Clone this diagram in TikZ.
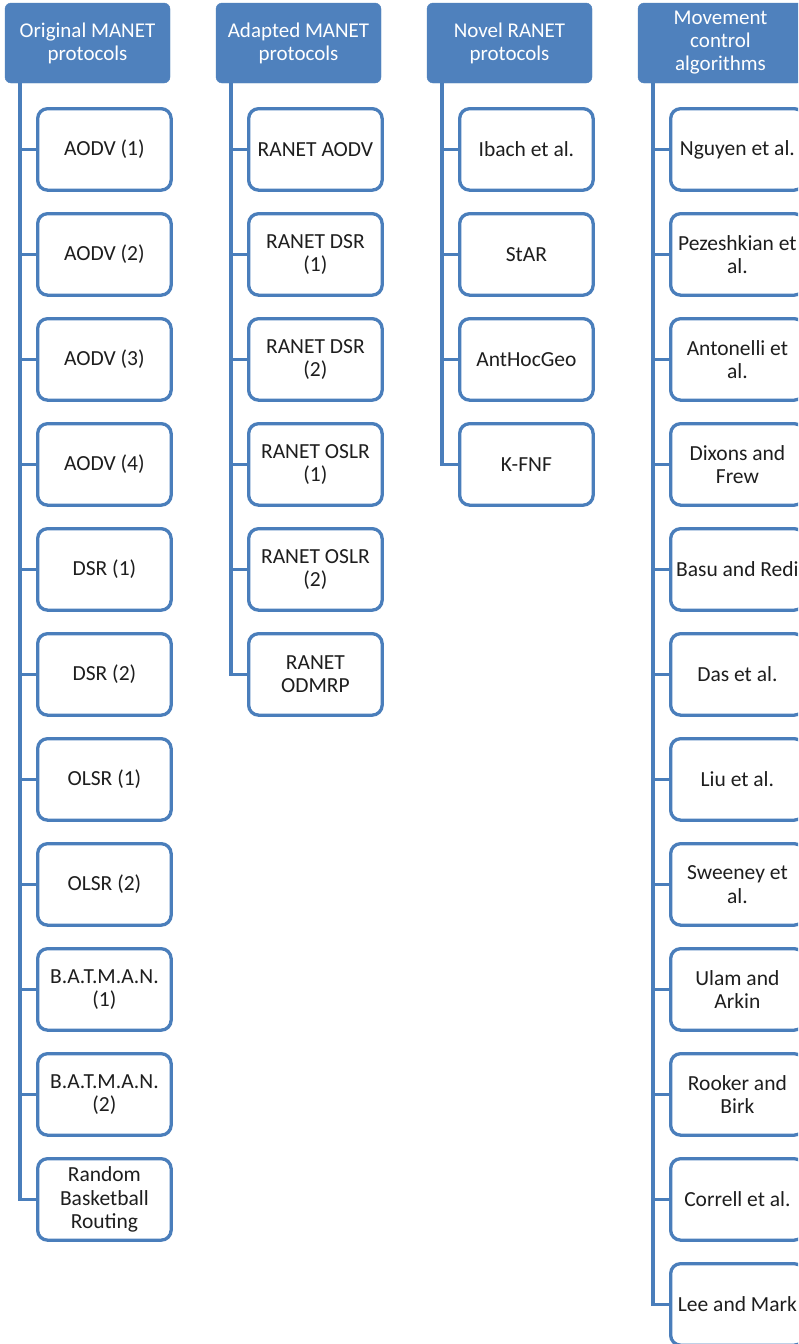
\documentclass[tikz,border=0pt]{standalone}
\usepackage{fontspec}
\setmainfont{Carlito}
\definecolor{hdrblue}{HTML}{4F81BD}
\definecolor{edgeblue}{HTML}{4A7EBB}
\definecolor{inktext}{HTML}{1E1E1E}
\tikzset{
  header/.style={fill=hdrblue, draw=hdrblue, rounded corners=6pt,
    minimum width=165pt, minimum height=80pt, text=white, align=center,
    font=\fontsize{21}{23}\selectfont, anchor=north west, inner sep=1pt, outer sep=0pt},
  item/.style={draw=edgeblue, line width=3.3pt, fill=white, rounded corners=10pt,
    minimum width=133.5pt, minimum height=81.5pt, align=center,
    font=\fontsize{21.5}{23.5}\selectfont, text=inktext, anchor=north west, inner sep=1pt},
  link/.style={draw=edgeblue, line width=3.2pt},
}
\begin{document}
\begin{tikzpicture}[x=1pt, y=-1pt]
\useasboundingbox (0,0) rectangle (798,1344);
\clip (0,0) rectangle (798,1344);
\fill[white] (0,0) rectangle (798,1344);

% column headers
\node[header] (h1) at (5,3) {Original MANET\\protocols};
\node[header] (h2) at (216,3) {Adapted MANET\\protocols};
\node[header] (h3) at (427,3) {Novel RANET\\protocols};
\node[header] (h4) at (638,3) {Movement\\control\\algorithms};

% trunk start points below each header
\coordinate (t1) at (20,83);
\coordinate (t2) at (231,83);
\coordinate (t3) at (442,83);
\coordinate (t4) at (653,83);

% column 1
\foreach \lbl [count=\i from 0] in {AODV (1), AODV (2), AODV (3), AODV (4), DSR (1), DSR (2),
    OLSR (1), OLSR (2), {B.A.T.M.A.N.\\(1)}, {B.A.T.M.A.N.\\(2)}, {Random\\Basketball\\Routing}} {
  \node[item] (c1-\i) at (36,107+105*\i) {\lbl};
  \draw[link] (t1) |- (c1-\i.west);
}

% column 2
\foreach \lbl [count=\i from 0] in {RANET AODV, {RANET DSR\\(1)}, {RANET DSR\\(2)},
    {RANET OSLR\\(1)}, {RANET OSLR\\(2)}, {RANET\\ODMRP}} {
  \node[item] (c2-\i) at (247,107+105*\i) {\lbl};
  \draw[link] (t2) |- (c2-\i.west);
}

% column 3
\foreach \lbl [count=\i from 0] in {Ibach et al., StAR, AntHocGeo, K-FNF} {
  \node[item] (c3-\i) at (458,107+105*\i) {\lbl};
  \draw[link] (t3) |- (c3-\i.west);
}

% column 4
\foreach \lbl [count=\i from 0] in {Nguyen et al., {Pezeshkian et\\al.}, {Antonelli et\\al.},
    {Dixons and\\Frew}, Basu and Redi, Das et al., Liu et al., {Sweeney et\\al.},
    {Ulam and\\Arkin}, {Rooker and\\Birk}, Correll et al., Lee and Mark} {
  \node[item] (c4-\i) at (669,107+105*\i) {\lbl};
  \draw[link] (t4) |- (c4-\i.west);
}
\end{tikzpicture}
\end{document}
